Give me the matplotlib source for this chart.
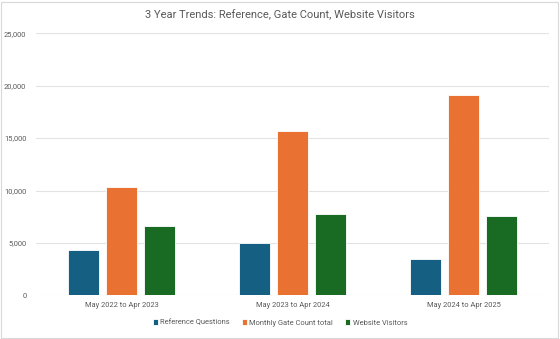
import numpy as np
import matplotlib.pyplot as plt
from matplotlib.patches import Rectangle
from matplotlib.ticker import FuncFormatter

periods = ["May 2022 to Apr 2023", "May 2023 to Apr 2024", "May 2024 to Apr 2025"]
series_names = ["Reference Questions", "Monthly Gate Count total", "Website Visitors"]
reference_questions = [4300, 5000, 3500]
gate_count = [10350, 15700, 19150]
website_visitors = [6600, 7800, 7550]
colors = ["#156082", "#E97132", "#196B24"]

plt.rcParams['font.family'] = ['Roboto', 'DejaVu Sans']
text_col = "#595959"

fig = plt.figure(figsize=(5.6, 3.39), dpi=100)
ax = fig.add_axes([36 / 560, 1 - 295.3 / 339, 513 / 560, (295.3 - 33.3) / 339])

x = np.arange(len(periods))
step = 0.222
width = 0.178
for i, (vals, name) in enumerate(zip([reference_questions, gate_count, website_visitors], series_names)):
    ax.bar(x + (i - 1) * step, vals, width, color=colors[i], label=name,
           edgecolor="white", linewidth=0.6, zorder=3)

ax.set_xlim(-0.5, 2.5)
ax.set_ylim(0, 25000)
ax.set_yticks(range(0, 25001, 5000))
ax.yaxis.set_major_formatter(FuncFormatter(lambda v, p: f"{int(v):,}"))
ax.grid(axis="y", color="#E3E3E3", linewidth=0.8, zorder=0)
for s in ax.spines.values():
    s.set_visible(False)
ax.tick_params(axis="both", length=0, labelsize=5.4, colors=text_col)
ax.tick_params(axis="y", pad=7)
ax.tick_params(axis="x", pad=5)
ax.set_xticks(x)
ax.set_xticklabels(periods)

fig.text(0.5, 1 - 15 / 339, "3 Year Trends: Reference, Gate Count, Website Visitors",
         ha="center", va="center", fontsize=8.0, color=text_col)

fig.legend(loc="center", bbox_to_anchor=(0.5, 1 - 323 / 339), ncol=3, frameon=False,
           fontsize=5.4, labelcolor=text_col, handlelength=0.7, handleheight=0.7,
           handletextpad=0.3, columnspacing=1.6)

fig.patches.append(Rectangle((1 / 560, 1 / 339), 557 / 560, 336 / 339, transform=fig.transFigure,
                             fill=False, edgecolor="#D9D9D9", linewidth=0.8))

fig.savefig("out.png", dpi=100)
